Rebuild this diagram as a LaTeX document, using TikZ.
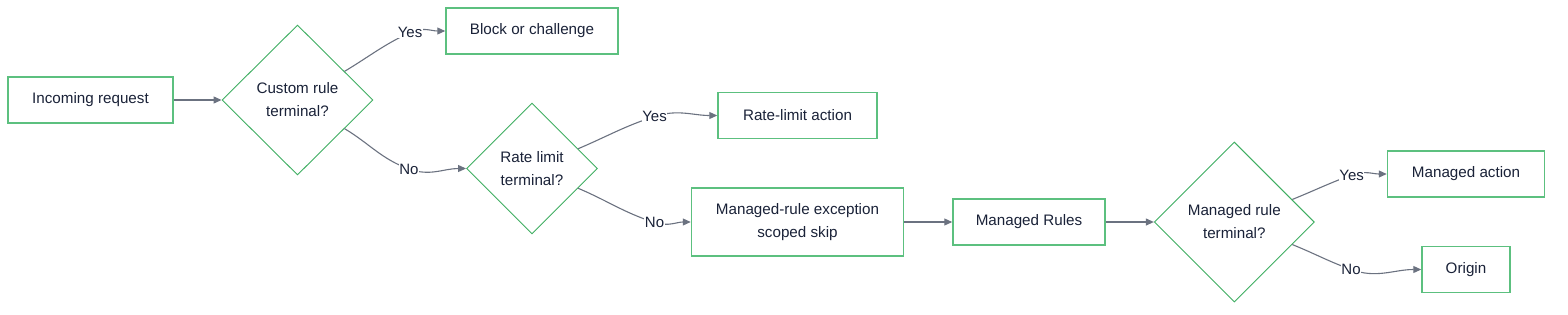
\documentclass[tikz,border=0pt]{standalone}
\usepackage{fontspec}
\setmainfont{Liberation Sans}
\usetikzlibrary{shapes.geometric,arrows.meta,calc}
\definecolor{boxgreen}{HTML}{5CC07F}
\definecolor{diagreen}{HTML}{3FAE62}
\definecolor{edgegray}{HTML}{6B7280}
\definecolor{txt}{HTML}{1A2238}
\tikzset{
  procbox/.style={draw=boxgreen, line width=1.5pt, fill=white, rectangle, inner sep=0pt,
    text=txt, font=\fontsize{15.2}{23}\selectfont, align=center},
  decbox/.style={draw=diagreen, line width=0.9pt, fill=white, diamond, inner sep=0pt,
    text=txt, font=\fontsize{15.2}{23}\selectfont, align=center},
  edgelbl/.style={fill=white, inner sep=0.5pt, text=txt, font=\fontsize{15}{17}\selectfont},
  edge/.style={draw=edgegray, line width=1.1pt, -{Triangle[length=8pt,width=7pt]}},
}
\begin{document}
\begin{tikzpicture}[x=1pt,y=1pt]
\useasboundingbox (0,0) rectangle (1568,-314);
% nodes
\node[procbox, minimum width=165pt, minimum height=46pt] (inc) at (90.5,-100) {Incoming request};
\node[decbox, minimum width=151pt, minimum height=150pt] (d1) at (297.5,-100) {Custom rule\\terminal?};
\node[procbox, minimum width=172pt, minimum height=46pt] (blk) at (532,-31) {Block or challenge};
\node[decbox, minimum width=131pt, minimum height=131pt] (d2) at (532,-168.5) {Rate limit\\terminal?};
\node[procbox, minimum width=159pt, minimum height=46pt] (rla) at (797.5,-115.5) {Rate-limit action};
\node[procbox, minimum width=212pt, minimum height=68pt] (mre) at (797.5,-222) {Managed-rule exception\\scoped skip};
\node[procbox, minimum width=152pt, minimum height=46pt] (mr) at (1029,-222) {Managed Rules};
\node[decbox, minimum width=160pt, minimum height=160pt] (d3) at (1234.3,-222) {Managed rule\\terminal?};
\node[procbox, minimum width=157pt, minimum height=46pt] (ma) at (1466,-174) {Managed action};
\node[procbox, minimum width=88pt, minimum height=46pt] (org) at (1466,-269.5) {Origin};
% start points on diamond edges
\coordinate (d1y) at ($(d1.north)!0.62!(d1.east)$);
\coordinate (d1n) at ($(d1.south)!0.62!(d1.east)$);
\coordinate (d2y) at ($(d2.north)!0.70!(d2.east)$);
\coordinate (d2n) at ($(d2.south)!0.70!(d2.east)$);
\coordinate (d3y) at ($(d3.north)!0.72!(d3.east)$);
\coordinate (d3n) at ($(d3.south)!0.72!(d3.east)$);
% label positions
\coordinate (y1) at (410,-32.5);
\coordinate (n1) at (409,-169);
\coordinate (y2) at (654.5,-116.5);
\coordinate (n2) at (654.5,-222.5);
\coordinate (y3) at (1351.7,-175);
\coordinate (n3) at (1351,-269.5);
% edges
\draw[edge] (inc.east) -- (d1.west);
\draw[edge] (d1y) to[out=31,in=205] (y1) to[out=25,in=180] (blk.west);
\draw[edge] (d1n) to[out=-31,in=160] (n1) to[out=-20,in=180] (d2.west);
\draw[edge] (d2y) to[out=23,in=198] (y2) to[out=18,in=180] (rla.west);
\draw[edge] (d2n) to[out=-23,in=162] (n2) to[out=-18,in=180] (mre.west);
\draw[edge] (mre.east) -- (mr.west);
\draw[edge] (mr.east) -- (d3.west);
\draw[edge] (d3y) to[out=22,in=200] (y3) to[out=20,in=180] (ma.west);
\draw[edge] (d3n) to[out=-22,in=160] (n3) to[out=-20,in=180] (org.west);
% labels
\node[edgelbl] (ly1) at (y1) {Yes};
\node[edgelbl] (ln1) at (n1) {No};
\node[edgelbl] (ly2) at (y2) {Yes};
\node[edgelbl] (ln2) at (n2) {No};
\node[edgelbl] (ly3) at (y3) {Yes};
\node[edgelbl] (ln3) at (n3) {No};
\end{tikzpicture}
\end{document}
